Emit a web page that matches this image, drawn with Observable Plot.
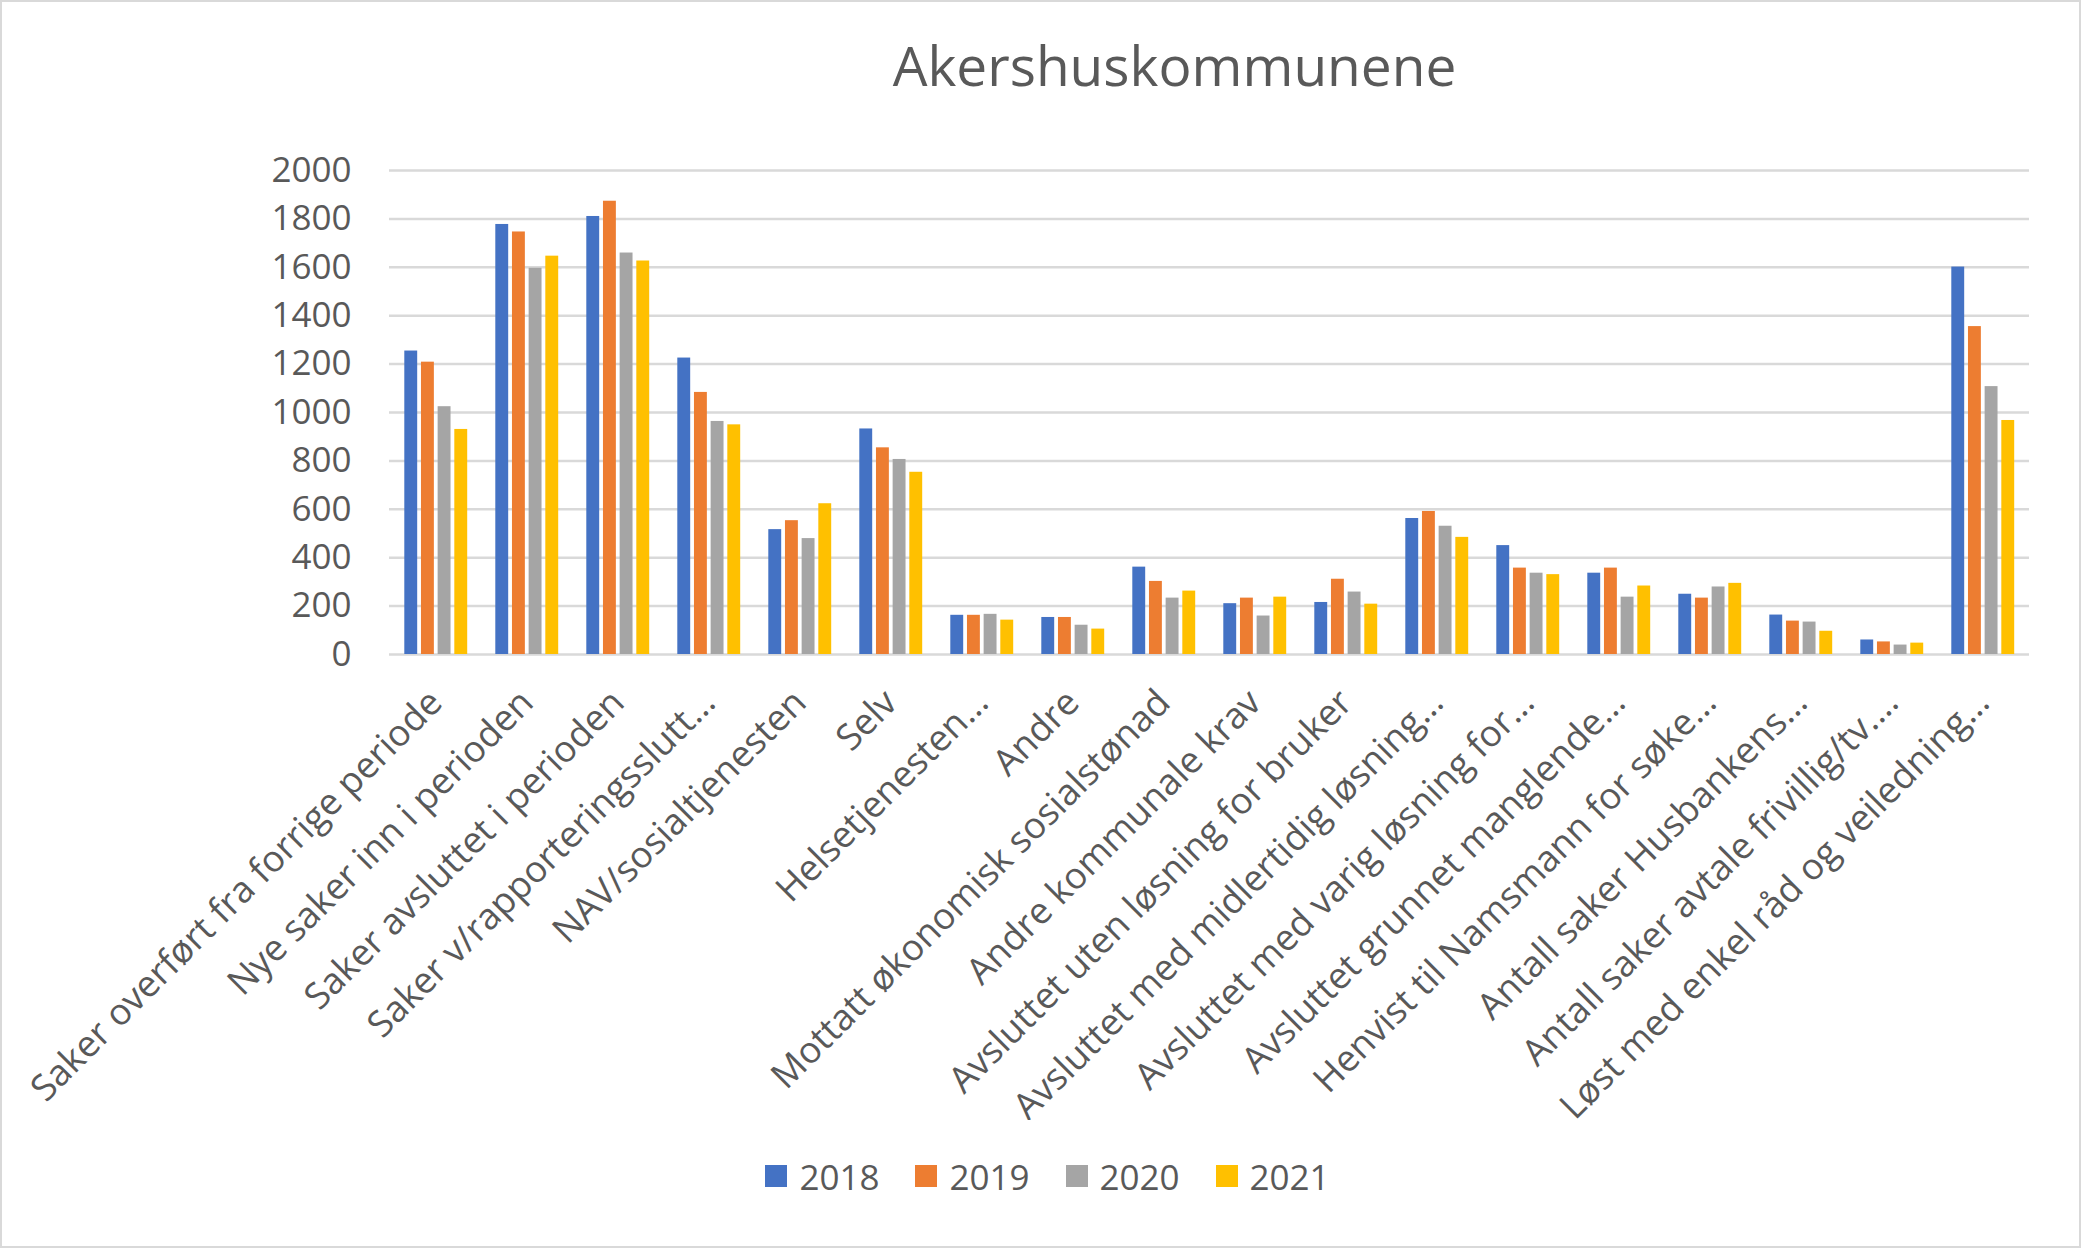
<!DOCTYPE html>
<html>
<head>
<meta charset="utf-8">
<script src="https://cdn.jsdelivr.net/npm/d3@7"></script>
<script src="https://cdn.jsdelivr.net/npm/@observablehq/plot@0.6"></script>
<style>
  html, body { margin: 0; padding: 0; background: #fff; }
  #wrap { position: relative; width: 2081px; height: 1248px; overflow: hidden; font-family: "Open Sans", sans-serif; color: #595959; }
  #border { position: absolute; left: 0; top: 0; width: 2077px; height: 1244px; border: 2px solid #d9d9d9; pointer-events: none; }
  #title { height: 120px; box-sizing: border-box; padding-top: 27px; padding-left: 268px; font-size: 55px; line-height: normal; text-align: center; }
  #chart { height: 1000px; }
  #legend { height: 128px; box-sizing: border-box; padding-bottom: 16px; padding-left: 14px; display: flex; justify-content: center; align-items: center; font-size: 35px; }
  .item { display: flex; align-items: center; margin: 0 18px; }
  .sw { width: 22px; height: 22px; margin-right: 12px; }
</style>
</head>
<body>
<div id="wrap">
  <div id="title"></div>
  <div id="chart"></div>
  <div id="legend"></div>
  <div id="border"></div>
</div>
<script>
const titleText = "Akershuskommunene";
const categories = [
  "Saker overført fra forrige periode",
  "Nye saker inn i perioden",
  "Saker avsluttet i perioden",
  "Saker v/rapporteringsslutt…",
  "NAV/sosialtjenesten",
  "Selv",
  "Helsetjenesten…",
  "Andre",
  "Mottatt økonomisk sosialstønad",
  "Andre kommunale krav",
  "Avsluttet uten løsning for bruker",
  "Avsluttet med midlertidig løsning…",
  "Avsluttet med varig løsning for…",
  "Avsluttet grunnet manglende…",
  "Henvist til Namsmann for søke…",
  "Antall saker Husbankens…",
  "Antall saker avtale frivillig/tv.…",
  "Løst med enkel råd og veiledning…"
];
const years = ["2018", "2019", "2020", "2021"];
const v2018 = [1254, 1777, 1810, 1225, 516, 932, 162, 153, 361, 210, 215, 562, 450, 336, 249, 163, 60, 1601];
const v2019 = [1208, 1746, 1873, 1083, 553, 854, 162, 153, 302, 233, 311, 591, 357, 357, 233, 138, 52, 1355];
const v2020 = [1024, 1596, 1659, 963, 479, 806, 166, 121, 233, 159, 258, 530, 336, 237, 279, 134, 39, 1107];
const v2021 = [930, 1646, 1626, 949, 623, 753, 142, 105, 262, 237, 208, 484, 330, 283, 294, 96, 47, 967];
const yTicks = [0, 200, 400, 600, 800, 1000, 1200, 1400, 1600, 1800, 2000];
const colors = ["#4472c4", "#ed7d31", "#a5a5a5", "#ffc000"];

const series = [v2018, v2019, v2020, v2021];
const rows = [];
years.forEach((y, i) => categories.forEach((c, j) => rows.push({category: c, year: y, value: series[i][j]})));

document.getElementById("title").textContent = titleText;

const W = 2081, H = 1000, ML = 389, MR = 52, MT = 50, MB = 466;
const bw = (W - ML - MR) / categories.length;
const barW = 13, groupPad = 14.3, step = 16.67;

const barMarks = years.map((y, i) => {
  const left = groupPad + i * step;
  return Plot.barY(rows.filter(d => d.year === y), {
    x: "category", y: "value", fill: colors[i],
    insetLeft: left, insetRight: bw - left - barW
  });
});

const chart = Plot.plot({
  width: W, height: H,
  marginLeft: ML, marginRight: MR, marginTop: MT, marginBottom: MB,
  style: {fontFamily: "Open Sans, sans-serif", fontSize: "35px", color: "#595959", background: "transparent"},
  x: {domain: categories, padding: 0, axis: null},
  y: {domain: [0, 2000], axis: null},
  marks: [
    Plot.ruleY(yTicks, {stroke: "#d9d9d9", strokeWidth: 2.5}),
    ...barMarks,
    Plot.axisY({ticks: yTicks, tickSize: 0, tickPadding: 38, tickFormat: d => String(d), fontSize: 35, label: null}),
    Plot.axisX({tickSize: 0, tickPadding: 42, tickRotate: -45, fontSize: 36.5, label: null})
  ]
});
document.getElementById("chart").appendChild(chart);

const legend = document.getElementById("legend");
years.forEach((y, i) => {
  const item = document.createElement("div");
  item.className = "item";
  const sw = document.createElement("div");
  sw.className = "sw";
  sw.style.background = colors[i];
  const t = document.createElement("span");
  t.textContent = y;
  item.appendChild(sw);
  item.appendChild(t);
  legend.appendChild(item);
});
</script>
</body>
</html>
